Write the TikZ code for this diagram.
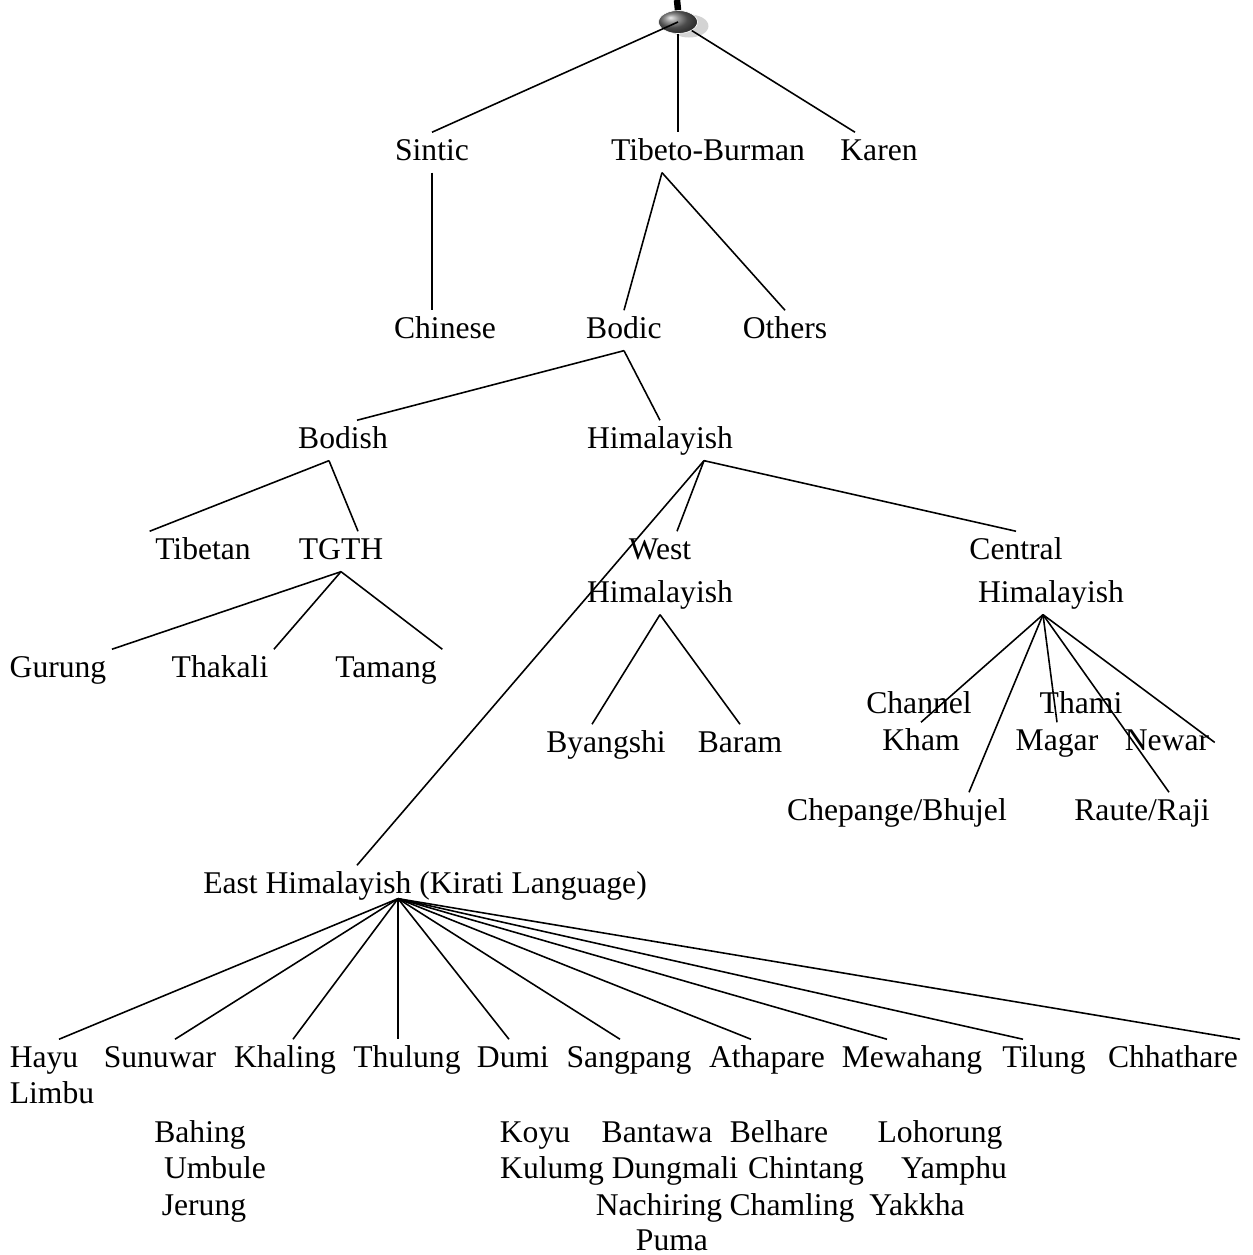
\documentclass[tikz,border=0pt]{standalone}
\usepackage{fontspec}
\setmainfont{Liberation Serif}
\usetikzlibrary{positioning, calc, shapes.geometric, shadows}

\begin{document}
\begin{tikzpicture}[x=0.02cm, y=-0.02cm,
	lang/.style={font=\fontsize{18}{22}\selectfont, inner sep=3pt,
		text height=12.6pt, text depth=4pt, anchor=base},
	br/.style={line width=0.9pt, black},
	root/.style={ellipse, minimum width=0.78cm, minimum height=0.46cm, inner sep=0pt,
		ball color=gray!85!black, draw=white, thin,
		drop shadow={shadow xshift=0.22cm, shadow yshift=-0.08cm, opacity=0.35, fill=gray}}]

	\useasboundingbox (0,0) rectangle (1252,1255);

	\node[root] (root) at (678,22) {};
	\node[lang] (sin)  at (432,160) {Sintic};
	\node[lang] (tb)   at (708,160) {Tibeto-Burman};
	\node[lang] (kar)  at (879,160) {Karen};
	\node[lang] (chi)  at (445,338) {Chinese};
	\node[lang] (bod)  at (624,338) {Bodic};
	\node[lang] (oth)  at (785,338) {Others};
	\node[lang] (bsh)  at (343,448) {Bodish};
	\node[lang] (him)  at (660,448) {Himalayish};
	\node[lang] (tib)  at (203,559) {Tibetan};
	\node[lang] (tgth) at (341,559) {TGTH};
	\node[lang] (west) at (660,559) {West};
	\node[lang] (westh) at (660,602) {Himalayish};
	\node[lang] (cen)  at (1016,559) {Central};
	\node[lang] (cenh) at (1051,602) {Himalayish};
	\node[lang] (gur)  at (58,677) {Gurung};
	\node[lang] (tha)  at (220,677) {Thakali};
	\node[lang] (tam)  at (386,677) {Tamang};
	\node[lang] (bya)  at (606,752) {Byangshi};
	\node[lang] (bar)  at (740,752) {Baram};
	\node[lang] (chn)  at (919,713) {Channel};
	\node[lang] (kha)  at (921,750) {Kham};
	\node[lang] (thm)  at (1081,713) {Thami};
	\node[lang] (mag)  at (1057,750) {Magar};
	\node[lang] (new)  at (1167,750) {Newar};
	\node[lang] (che)  at (897,820) {Chepange/Bhujel};
	\node[lang] (rau)  at (1142,820) {Raute/Raji};
	\node[lang] (east) at (425,893) {East Himalayish (Kirati Language)};

	\node[lang] (hayu) at (44,1067) {Hayu};
	\node[lang] (sun)  at (160,1067) {Sunuwar};
	\node[lang] (khl)  at (285,1067) {Khaling};
	\node[lang] (thu)  at (407,1067) {Thulung};
	\node[lang] (dum)  at (513,1067) {Dumi};
	\node[lang] (san)  at (629,1067) {Sangpang};
	\node[lang] (ath)  at (767,1067) {Athapare};
	\node[lang] (mew)  at (912,1067) {Mewahang};
	\node[lang] (til)  at (1044,1067) {Tilung};
	\node[lang] (chh)  at (1173,1067) {Chhathare};
	\node[lang] (lim)  at (52,1103) {Limbu};
	\node[lang] (bah)  at (200,1142) {Bahing};
	\node[lang] (umb)  at (215,1178) {Umbule};
	\node[lang] (jer)  at (204,1215) {Jerung};
	\node[lang] (koy)  at (535,1142) {Koyu};
	\node[lang] (ban)  at (657,1142) {Bantawa};
	\node[lang] (bel)  at (779,1142) {Belhare};
	\node[lang] (loh)  at (940,1142) {Lohorung};
	\node[lang] (kul)  at (552,1178) {Kulumg};
	\node[lang] (dun)  at (675,1178) {Dungmali};
	\node[lang] (chi2) at (806,1178) {Chintang};
	\node[lang] (yam)  at (954,1178) {Yamphu};
	\node[lang] (nac)  at (659,1215) {Nachiring};
	\node[lang] (cha)  at (792,1215) {Chamling};
	\node[lang] (yak)  at (917,1215) {Yakkha};
	\node[lang] (pum)  at (672,1250) {Puma};

	\coordinate (top) at (677,0);
	\coordinate (hj) at ($(him.south)+(44,0)$);
	\coordinate (cj) at ($(cenh.south)+(-8,0)$);
	\coordinate (ej) at ($(east.south)+(-27,-7)$);

	\draw[line width=0.13cm] (top) -- (root.north);
	\draw[br] (root.center) -- (sin.north);
	\draw[br] (root.south) -- (root.south |- tb.north);
	\draw[br] (root) -- ($(kar.north)+(-24,0)$);

	\draw[br] (sin.south) -- (sin.south |- chi.north);
	\draw[br] ($(tb.south)+(-46,0)$) -- (bod.north);   \draw[br] ($(tb.south)+(-46,0)$) -- (oth.north);
	\draw[br] (bod.south) -- ($(bsh.north)+(14,0)$);    \draw[br] (bod.south) -- (him.north);
	\draw[br] ($(bsh.south)+(-14,0)$) -- (tib.north west);
	\draw[br] ($(bsh.south)+(-14,0)$) -- ($(tgth.north)+(17,0)$);
	\draw[br] (tgth.south) -- (gur.north east);
	\draw[br] (tgth.south) -- (tha.north east);
	\draw[br] (tgth.south) -- (tam.north east);

	\draw[br] (hj) -- ($(west.north)+(17,0)$);
	\draw[br] (hj) -- (cen.north);
	\draw[br] (hj) -- ($(east.north)+(-68,0)$);
	\draw[br] (westh.south) -- ($(bya.north)+(-14,0)$);  \draw[br] (westh.south) -- (bar.north);

	\draw[br] (cj) -- (kha.north);
	\draw[br] (cj) -- ($(che.north)+(72,0)$);
	\draw[br] (cj) -- (mag.north);
	\draw[br] (cj) -- ($(rau.north)+(27,0)$);
	\draw[br] (cj) -- (new.east);

	\foreach \n/\d in {hayu/15, sun/15, khl/8, thu/-9, dum/-4, san/-9, ath/-16, mew/-25, til/-21, chh/67}
		\draw[br] (ej) -- ($(\n.north)+(\d,0)$);
\end{tikzpicture}
\end{document}
